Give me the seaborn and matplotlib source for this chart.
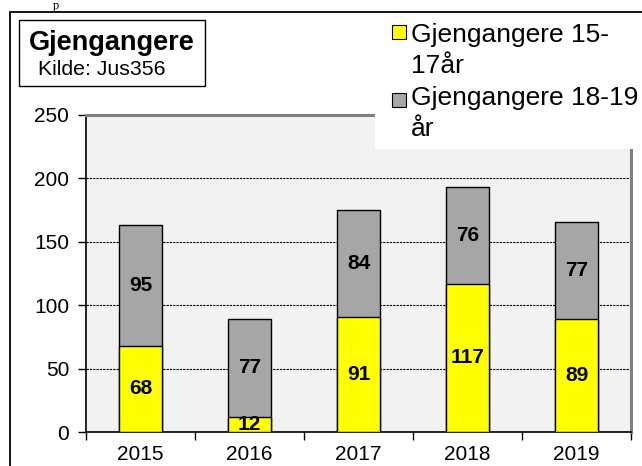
import matplotlib
matplotlib.use("Agg")
import matplotlib.pyplot as plt
from matplotlib.patches import Rectangle
import seaborn as sns
import pandas as pd

years = ["2015", "2016", "2017", "2018", "2019"]
young = [68, 12, 91, 117, 89]      # Gjengangere 15-17år
older = [95, 77, 84, 76, 77]       # Gjengangere 18-19 år
series_names = ["Gjengangere 15-\n17år", "Gjengangere 18-19\når"]
yticks = [0, 50, 100, 150, 200, 250]

YELLOW = "#FFFF00"
GRAY = "#A6A6A6"

sns.set_style("white")
plt.rcParams["font.family"] = ["Liberation Sans", "DejaVu Sans"]
plt.rcParams["text.color"] = "black"
plt.rcParams["xtick.color"] = "black"
plt.rcParams["ytick.color"] = "black"
plt.rcParams["axes.labelcolor"] = "black"

W, H = 642, 466
fig = plt.figure(figsize=(W / 100, H / 100), dpi=100)

def fx(x):
    return x / W

def fy(y):
    return 1 - y / H

ax = fig.add_axes([fx(86), fy(432), fx(631) - fx(86), fy(115) - fy(432)])
ax.set_facecolor("#F2F2F2")

df = pd.DataFrame({"year": years, "young": young, "older": older})
df["total"] = df["young"] + df["older"]

sns.barplot(data=df, x="year", y="total", order=years, color=GRAY, saturation=1,
            width=0.4, edgecolor="black", linewidth=1, ax=ax, zorder=3)
sns.barplot(data=df, x="year", y="young", order=years, color=YELLOW, saturation=1,
            width=0.4, edgecolor="black", linewidth=1, ax=ax, zorder=3)

for i, (a, b) in enumerate(zip(young, older)):
    ax.text(i, a / 2, str(a), ha="center", va="center", fontsize=15,
            fontweight="bold", color="black", zorder=5)
    ax.text(i, a + b / 2, str(b), ha="center", va="center", fontsize=15,
            fontweight="bold", color="black", zorder=5)

ax.set_xlim(-0.5, len(years) - 0.5)
ax.set_ylim(0, 250)
ax.set_yticks(yticks)
ax.set_xlabel("")
ax.set_ylabel("")
ax.set_xticks(range(len(years)))
ax.set_xticklabels(years)
ax.set_xticks([i - 0.5 for i in range(len(years) + 1)], minor=True)
ax.tick_params(axis="x", which="major", length=0, pad=9, labelsize=15,
               labelcolor="black")
ax.tick_params(axis="x", which="minor", length=6, width=1, color="black",
               direction="out", bottom=True)
ax.tick_params(axis="y", which="major", length=6, width=1, color="black",
               direction="out", left=True, labelsize=15, pad=6, labelcolor="black")

ax.yaxis.grid(True, linestyle=(0, (2, 1)), linewidth=0.8, color="black", zorder=1)
ax.set_axisbelow(True)

for s in ["left", "bottom"]:
    ax.spines[s].set_color("black")
    ax.spines[s].set_linewidth(1.2)
for s in ["top", "right"]:
    ax.spines[s].set_color("#808080")
    ax.spines[s].set_linewidth(2.2)
    ax.spines[s].set_visible(True)

# outer frame
fig.patches.append(Rectangle((fx(10), fy(480)), fx(660) - fx(10), fy(12) - fy(480),
                             transform=fig.transFigure, facecolor="none",
                             edgecolor="black", linewidth=1.3, zorder=10))

# title box
fig.patches.append(Rectangle((fx(19), fy(86)), fx(205) - fx(19), fy(20) - fy(86),
                             transform=fig.transFigure, facecolor="white",
                             edgecolor="black", linewidth=1, zorder=10))
fig.text(fx(112), fy(50), "Gjengangere", ha="center", va="baseline",
         fontsize=19.5, fontweight="bold", zorder=11)
fig.text(fx(102), fy(75), "Kilde: Jus356", ha="center", va="baseline",
         fontsize=15.3, zorder=11)

# legend area
fig.patches.append(Rectangle((fx(375), fy(149)), fx(660) - fx(375), fy(13.5) - fy(149),
                             transform=fig.transFigure, facecolor="white",
                             edgecolor="none", zorder=9))
legend_colors = [YELLOW, GRAY]
legend_tops = [25, 93]
legend_base = [42, 105]
for name, col, top, base in zip(series_names, legend_colors, legend_tops, legend_base):
    fig.patches.append(Rectangle((fx(392), fy(top + 14)), fx(406) - fx(392),
                                 fy(top) - fy(top + 14), transform=fig.transFigure,
                                 facecolor=col, edgecolor="black", linewidth=0.8,
                                 zorder=11))
    first, second = name.split("\n")
    fig.text(fx(411), fy(base), first, ha="left", va="baseline", fontsize=19,
             zorder=11)
    fig.text(fx(411), fy(base + 31), second, ha="left", va="baseline", fontsize=19,
             zorder=11)

# small stray glyph at the top edge of the reference image
fig.text(fx(53), fy(0.5), "p", ha="left", va="top", fontsize=9,
         family="Liberation Serif", zorder=11)

fig.savefig("out.png", dpi=100, facecolor="white")
